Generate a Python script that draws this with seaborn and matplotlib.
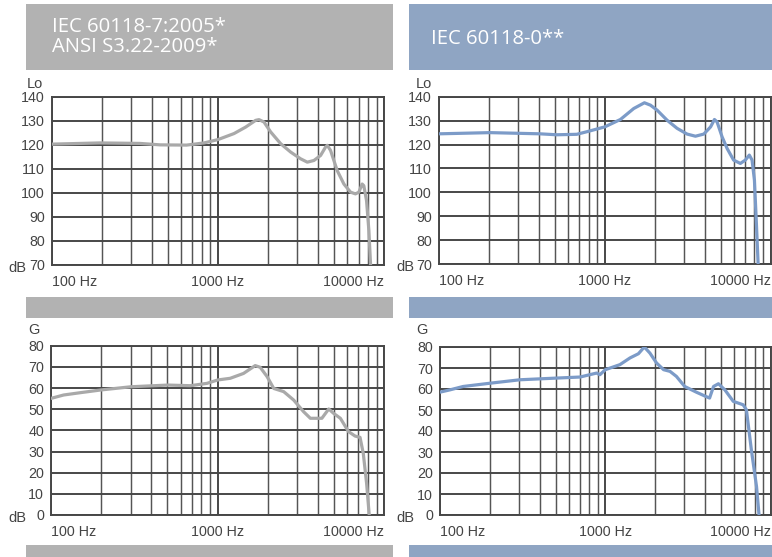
import matplotlib
matplotlib.use("Agg")
import matplotlib.pyplot as plt
import numpy as np
import pandas as pd
import seaborn as sns
from matplotlib.patches import Rectangle
from matplotlib.ticker import LogLocator, NullFormatter

# ---------------- data ----------------
header_left = ["IEC 60118-7:2005*", "ANSI S3.22-2009*"]
header_right = ["IEC 60118-0**"]
x_tick_vals = [100, 1000, 10000]
x_tick_labels = ["100 Hz", "1000 Hz", "10000 Hz"]
lo_ticks = [70, 80, 90, 100, 110, 120, 130, 140]
g_ticks = [0, 10, 20, 30, 40, 50, 60, 70, 80]

lo_iec7_freq = [100, 195, 339, 448, 647, 824, 1000, 1248, 1467, 1684, 1764, 1890, 2072,
                2380, 2734, 3138, 3443, 3776, 4140, 4436, 4540, 4750, 5210, 5715, 6270,
                6710, 7030, 7360, 7530, 7820, 8080, 8270]
lo_iec7_db = [120.3, 120.8, 120.6, 120.0, 119.9, 120.8, 122.2, 124.7, 127.4, 130.2, 130.5,
              129.5, 125.4, 120.5, 117.0, 114.2, 112.8, 113.5, 115.6, 119.1, 119.8, 117.7,
              109.3, 103.7, 100.3, 99.6, 100.3, 103.7, 103.0, 96.8, 84.2, 70.0]

lo_iec0_freq = [100, 203, 407, 513, 678, 782, 1000, 1243, 1496, 1735, 1887, 2070, 2377,
                2731, 3138, 3525, 3960, 4350, 4590, 4760, 5100, 5470, 5990, 6580, 7050,
                7450, 7740, 8000, 8220, 8420]
lo_iec0_db = [124.5, 125.0, 124.5, 124.1, 124.3, 125.4, 127.4, 130.5, 135.1, 137.5, 136.5,
              134.4, 130.2, 126.8, 124.4, 123.5, 124.4, 127.4, 130.5, 129.5, 123.3, 118.4,
              113.5, 112.1, 113.5, 115.6, 113.5, 105.1, 87.0, 70.0]

g_iec7_freq = [100, 119, 150, 200, 302, 503, 685, 862, 1000, 1190, 1430, 1680, 1800, 1980,
               2170, 2490, 2860, 3280, 3600, 4220, 4640, 4970, 5450, 6100, 6680, 7150, 7480,
               7830, 8120]
g_iec7_db = [55.1, 56.7, 57.8, 59.1, 60.6, 61.4, 61.1, 62.2, 63.8, 64.6, 66.9, 70.6, 69.8,
             65.4, 59.8, 58.3, 54.3, 48.8, 45.7, 45.7, 50.1, 48.0, 45.7, 39.4, 37.3, 36.7,
             29.1, 15.0, 0.0]

g_iec0_freq = [100, 115, 138, 203, 305, 507, 703, 886, 927, 1000, 1225, 1410, 1585, 1720,
               1860, 2040, 2250, 2460, 2690, 3020, 3570, 4120, 4270, 4510, 4830, 5280, 5940,
               6360, 6810, 7130, 7640, 8210, 8500]
g_iec0_db = [58.5, 59.6, 61.2, 62.8, 64.4, 65.2, 65.7, 67.6, 66.8, 69.2, 71.6, 74.8, 76.8,
             80.0, 77.1, 72.4, 69.2, 68.4, 66.0, 61.2, 58.4, 56.2, 55.7, 61.2, 62.5, 59.6,
             54.1, 53.3, 52.5, 50.1, 31.0, 13.5, 0.0]

# ---------------- style ----------------
sns.set_style("white")
plt.rcParams["font.family"] = ["Liberation Sans", "DejaVu Sans"]

GRAY_HDR = "#b2b2b2"
BLUE_HDR = "#8fa5c3"
GRAY_LINE = "#a9a9a9"
BLUE_LINE = "#7c9bc8"
GRID = "#474747"
TXT = "#444444"

W, H = 772, 557
fig = plt.figure(figsize=(W / 100, H / 100), dpi=100)
fig.patch.set_facecolor("white")


def fx(px):
    return px / W


def fy(py):
    return 1 - py / H


def add_rect(x0, y0, x1, y1, color):
    fig.patches.append(Rectangle((fx(x0), fy(y1)), fx(x1) - fx(x0), fy(y0) - fy(y1),
                                 transform=fig.transFigure, facecolor=color,
                                 edgecolor="none", zorder=0))


# header / separator bars
add_rect(26, 4, 393, 70, GRAY_HDR)
add_rect(409, 4, 772, 70, BLUE_HDR)
add_rect(26, 297, 393, 318, GRAY_HDR)
add_rect(409, 297, 772, 318, BLUE_HDR)
add_rect(26, 545, 393, 557, GRAY_HDR)
add_rect(409, 545, 772, 557, BLUE_HDR)

hdr_font = dict(color="white", fontsize=14.6, family=["Open Sans", "DejaVu Sans"],
                va="baseline")
fig.text(fx(52), fy(31.5), header_left[0], **hdr_font)
fig.text(fx(52), fy(52.5), header_left[1], **hdr_font)
fig.text(fx(431), fy(44.5), header_right[0], **hdr_font)


def make_axes(x0, y0, x1, y1):
    return fig.add_axes([fx(x0), fy(y1), fx(x1) - fx(x0), fy(y0) - fy(y1)])


def draw(ax, freq, db, color, yticks):
    ax.set_xscale("log")
    df = pd.DataFrame({"freq": freq, "db": db})
    sns.lineplot(data=df, x="freq", y="db", ax=ax, color=color, linewidth=2.3,
                 estimator=None, sort=False, zorder=5)
    ax.set_xlim(100, 10000)
    ax.set_ylim(yticks[0], yticks[-1])
    ax.set_xlabel("")
    ax.set_ylabel("")
    ax.set_facecolor("white")
    ax.set_axisbelow(True)
    ax.set_xticks(x_tick_vals)
    ax.set_xticklabels(x_tick_labels)
    for lbl, ha in zip(ax.get_xticklabels(), ["left", "center", "right"]):
        lbl.set_horizontalalignment(ha)
    ax.xaxis.set_minor_locator(LogLocator(base=10, subs=range(2, 10), numticks=20))
    ax.xaxis.set_minor_formatter(NullFormatter())
    ax.set_yticks(yticks)
    ax.set_yticklabels([str(v) for v in yticks])
    ax.grid(True, which="major", axis="both", color=GRID, linewidth=1.4)
    ax.grid(True, which="minor", axis="x", color="#555555", linewidth=1.05)
    ax.tick_params(axis="both", which="major", direction="out", length=4, width=1,
                   color="#666666", labelcolor=TXT, labelsize=10.3)
    ax.tick_params(axis="x", which="major", pad=3)
    ax.tick_params(axis="y", which="major", pad=1)
    ax.tick_params(axis="x", which="minor", length=0)
    for sp in ax.spines.values():
        sp.set_visible(True)
        sp.set_color(GRID)
        sp.set_linewidth(1.4)


ax1 = make_axes(51.7, 96.8, 384.3, 265)
draw(ax1, lo_iec7_freq, lo_iec7_db, GRAY_LINE, lo_ticks)
ax2 = make_axes(439, 96.8, 770.5, 264)
draw(ax2, lo_iec0_freq, lo_iec0_db, BLUE_LINE, lo_ticks)
ax3 = make_axes(51, 345.7, 384.3, 515)
draw(ax3, g_iec7_freq, g_iec7_db, GRAY_LINE, g_ticks)
ax4 = make_axes(440, 347, 770.7, 515)
draw(ax4, g_iec0_freq, g_iec0_db, BLUE_LINE, g_ticks)

lab = dict(color=TXT, fontsize=10.5, va="center", ha="left")
fig.text(fx(27), fy(84), "Lo", **lab)
fig.text(fx(416), fy(84), "Lo", **lab)
fig.text(fx(28), fy(330), "G", **lab)
fig.text(fx(416), fy(330), "G", **lab)
fig.text(fx(8), fy(268), "dB", **lab)
fig.text(fx(396), fy(267), "dB", **lab)
fig.text(fx(8), fy(518), "dB", **lab)
fig.text(fx(396), fy(518), "dB", **lab)

fig.savefig("out.png", dpi=100, facecolor="white")
